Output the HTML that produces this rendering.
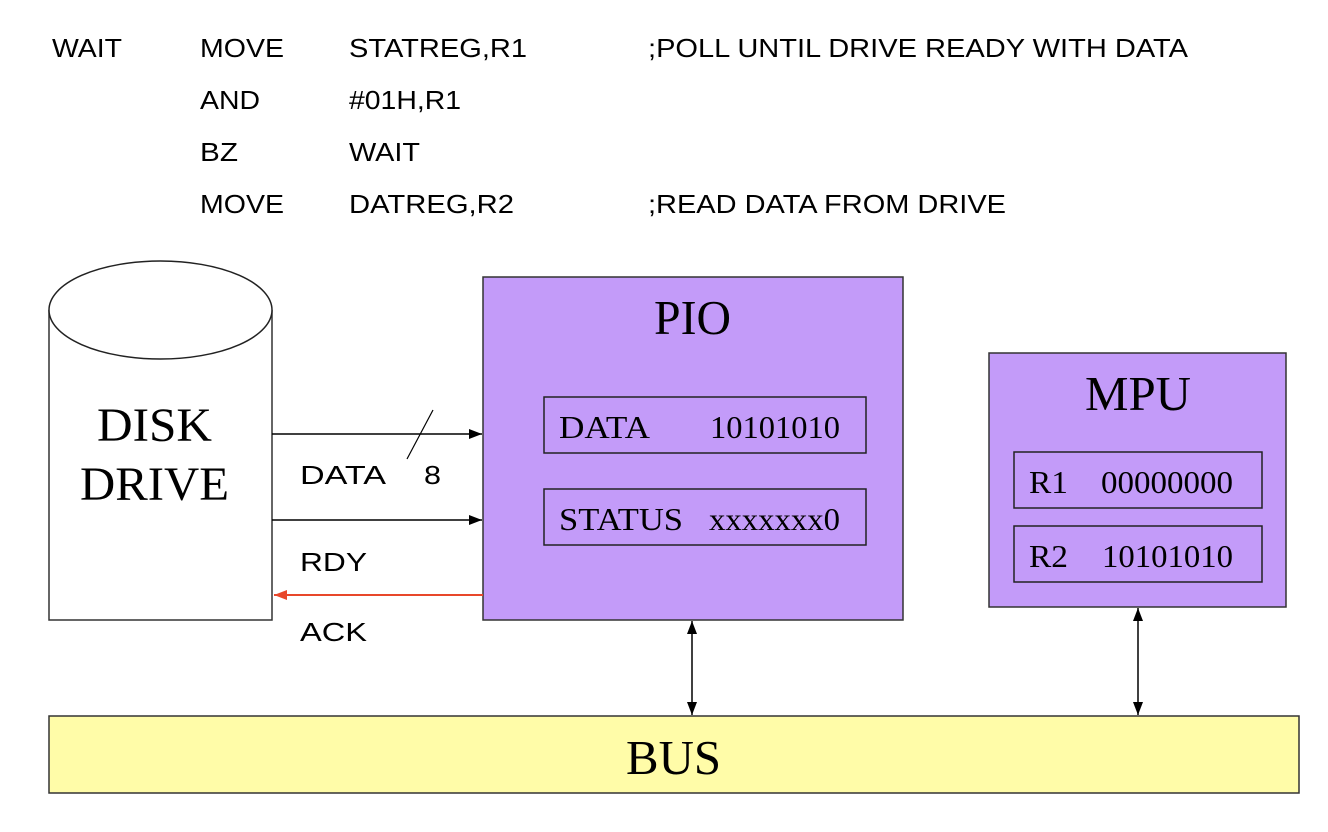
<!DOCTYPE html>
<html><head><meta charset="utf-8"><style>
html,body{margin:0;padding:0;background:#fff;width:1328px;height:832px;overflow:hidden}
svg{display:block}
.a{font-family:"Liberation Sans",Arial,sans-serif;font-size:26px;fill:#000}
.t{font-family:"Liberation Serif","Times New Roman",serif;fill:#000}
</style></head><body>
<svg width="1328" height="832" viewBox="0 0 1328 832" xmlns="http://www.w3.org/2000/svg">
<defs>
<marker id="ab" markerWidth="14" markerHeight="12" refX="13" refY="6" orient="auto" markerUnits="userSpaceOnUse"><path d="M0,1 L13,6 L0,11 Z" fill="#000"/></marker>
<marker id="ar" markerWidth="14" markerHeight="12" refX="13" refY="6" orient="auto" markerUnits="userSpaceOnUse"><path d="M0,1 L13,6 L0,11 Z" fill="#e8472a"/></marker>
<marker id="as" markerWidth="14" markerHeight="12" refX="1" refY="6" orient="auto" markerUnits="userSpaceOnUse"><path d="M14,1 L1,6 L14,11 Z" fill="#000"/></marker>
</defs>
<g class="a" lengthAdjust="spacingAndGlyphs">
<text x="52" y="57" textLength="70" lengthAdjust="spacingAndGlyphs">WAIT</text>
<text x="200" y="57" textLength="84" lengthAdjust="spacingAndGlyphs">MOVE</text>
<text x="349" y="57" textLength="178" lengthAdjust="spacingAndGlyphs">STATREG,R1</text>
<text x="648" y="57" textLength="540" lengthAdjust="spacingAndGlyphs">;POLL UNTIL DRIVE READY WITH DATA</text>
<text x="200" y="109" textLength="60" lengthAdjust="spacingAndGlyphs">AND</text>
<text x="349" y="109" textLength="112" lengthAdjust="spacingAndGlyphs">#01H,R1</text>
<text x="200" y="161" textLength="38" lengthAdjust="spacingAndGlyphs">BZ</text>
<text x="349" y="161" textLength="71" lengthAdjust="spacingAndGlyphs">WAIT</text>
<text x="200" y="213" textLength="84" lengthAdjust="spacingAndGlyphs">MOVE</text>
<text x="349" y="213" textLength="165" lengthAdjust="spacingAndGlyphs">DATREG,R2</text>
<text x="648" y="213" textLength="358" lengthAdjust="spacingAndGlyphs">;READ DATA FROM DRIVE</text>
</g>
<!-- cylinder -->
<path d="M49,310 L49,620 L272,620 L272,310" fill="#fff" stroke="#333" stroke-width="1.5"/>
<ellipse cx="160.5" cy="310" rx="111.5" ry="49" fill="#fff" stroke="#222" stroke-width="1.5"/>
<text class="t" x="97" y="441" font-size="48" textLength="115" lengthAdjust="spacingAndGlyphs">DISK</text>
<text class="t" x="80" y="500" font-size="48" textLength="149" lengthAdjust="spacingAndGlyphs">DRIVE</text>
<!-- PIO -->
<rect x="483" y="277" width="420" height="343" fill="#c39bf9" stroke="#333" stroke-width="1.5"/>
<text class="t" x="654" y="334" font-size="49" textLength="77" lengthAdjust="spacingAndGlyphs">PIO</text>
<rect x="544" y="397" width="322" height="56" fill="none" stroke="#222" stroke-width="1.5"/>
<text class="t" x="559" y="438" font-size="32" textLength="91" lengthAdjust="spacingAndGlyphs">DATA</text>
<text class="t" x="710" y="438" font-size="32" textLength="130" lengthAdjust="spacingAndGlyphs">10101010</text>
<rect x="544" y="489" width="322" height="56" fill="none" stroke="#222" stroke-width="1.5"/>
<text class="t" x="559" y="530" font-size="32" textLength="124" lengthAdjust="spacingAndGlyphs">STATUS</text>
<text class="t" x="709" y="530" font-size="32" textLength="131" lengthAdjust="spacingAndGlyphs">xxxxxxx0</text>
<!-- MPU -->
<rect x="989" y="353" width="297" height="254" fill="#c39bf9" stroke="#333" stroke-width="1.5"/>
<text class="t" x="1085" y="410" font-size="49" textLength="106" lengthAdjust="spacingAndGlyphs">MPU</text>
<rect x="1014" y="452" width="248" height="56" fill="none" stroke="#222" stroke-width="1.5"/>
<text class="t" x="1029" y="493" font-size="32" textLength="39" lengthAdjust="spacingAndGlyphs">R1</text>
<text class="t" x="1101" y="493" font-size="32" textLength="132" lengthAdjust="spacingAndGlyphs">00000000</text>
<rect x="1014" y="526" width="248" height="56" fill="none" stroke="#222" stroke-width="1.5"/>
<text class="t" x="1029" y="567" font-size="32" textLength="39" lengthAdjust="spacingAndGlyphs">R2</text>
<text class="t" x="1102" y="567" font-size="32" textLength="131" lengthAdjust="spacingAndGlyphs">10101010</text>
<!-- BUS -->
<rect x="49" y="716" width="1250" height="77" fill="#fffca8" stroke="#333" stroke-width="1.5"/>
<text class="t" x="626" y="774" font-size="49" textLength="95" lengthAdjust="spacingAndGlyphs">BUS</text>
<!-- connectors -->
<line x1="272" y1="434" x2="482" y2="434" stroke="#000" stroke-width="1.5" marker-end="url(#ab)"/>
<line x1="407" y1="459" x2="433" y2="410" stroke="#000" stroke-width="1.2"/>
<line x1="272" y1="520" x2="482" y2="520" stroke="#000" stroke-width="1.5" marker-end="url(#ab)"/>
<line x1="483" y1="595" x2="274" y2="595" stroke="#e8472a" stroke-width="2" marker-end="url(#ar)"/>
<text class="a" x="300" y="484" textLength="86" lengthAdjust="spacingAndGlyphs">DATA</text>
<text class="a" x="424" y="484" textLength="17" lengthAdjust="spacingAndGlyphs">8</text>
<text class="a" x="300" y="571" textLength="67" lengthAdjust="spacingAndGlyphs">RDY</text>
<text class="a" x="300" y="641" textLength="67" lengthAdjust="spacingAndGlyphs">ACK</text>
<line x1="692" y1="621" x2="692" y2="715" stroke="#000" stroke-width="1.5" marker-start="url(#as)" marker-end="url(#ab)"/>
<line x1="1138" y1="608" x2="1138" y2="715" stroke="#000" stroke-width="1.5" marker-start="url(#as)" marker-end="url(#ab)"/>
</svg>
</body></html>
